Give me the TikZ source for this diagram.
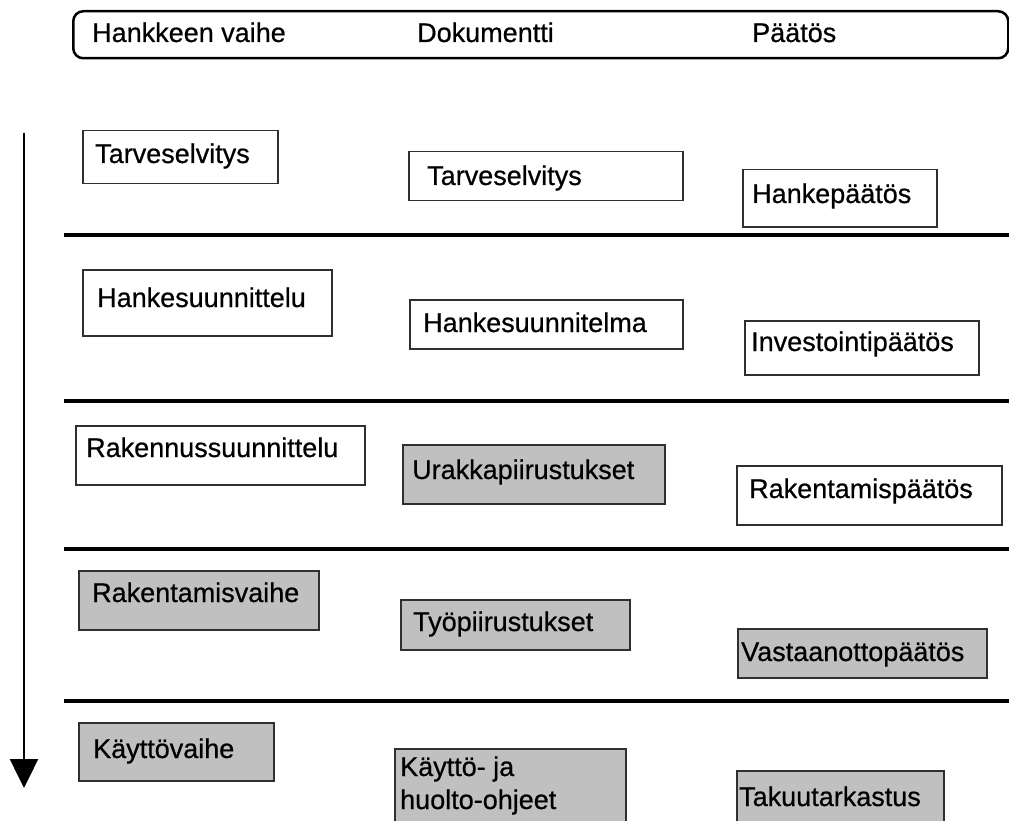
\documentclass[tikz,border=0pt]{standalone}
\usepackage{fontspec}
\setmainfont{Liberation Sans}
\newfontfamily\heavyfont[FakeBold=0.6]{Liberation Sans}
\usetikzlibrary{arrows.meta}
\definecolor{boxgray}{HTML}{C0C0C0}
\definecolor{boxline}{HTML}{303030}
\begin{document}
\begin{tikzpicture}[x=1pt,y=-1pt,
  box/.style={draw=boxline, line width=1.5pt, fill=white, inner sep=0pt, anchor=north west},
  gbox/.style={box, fill=boxgray},
  lbl/.style={anchor=base west, inner sep=0pt, font=\heavyfont\fontsize{27}{33}\selectfont, align=left},
  sep/.style={line width=4pt},
  hdr/.style={draw, line width=2.5pt, rounded corners=10pt, inner sep=0pt, anchor=north west}
]
\clip (0,0) rectangle (1009,821);
\fill[white] (0,0) rectangle (1009,821);

% header
\node[hdr, minimum width=935pt, minimum height=47pt] (header) at (72,10) {};
\node[lbl] (h1) at (92,42) {Hankkeen vaihe};
\node[lbl] (h2) at (417,42) {Dokumentti};
\node[lbl] (h3) at (752,42) {Päätös};

% time arrow
\coordinate (arrtop) at (24,133);
\coordinate (arrbot) at (24,788);
\draw[line width=2.5pt, -{Triangle[width=28pt,length=29pt]}] (arrtop) -- (arrbot);

% separator lines
\foreach \i/\yy in {1/235,2/401,3/549,4/701}{
  \coordinate (sl\i) at (64,\yy);
  \coordinate (sr\i) at (1012,\yy);
  \draw[sep] (sl\i) -- (sr\i);
}

% row 1
\node[box, minimum width=195pt, minimum height=53pt] (b11) at (82,130) {};
\node[lbl] (t11) at (95,163) {Tarveselvitys};
\node[box, minimum width=274pt, minimum height=49pt] (b12) at (408,151) {};
\node[lbl] (t12) at (427,185) {Tarveselvitys};
\node[box, minimum width=194pt, minimum height=57pt] (b13) at (742,169) {};
\node[lbl] (t13) at (752,203) {Hankepäätös};

% row 2
\node[box, minimum width=249pt, minimum height=66pt] (b21) at (82,269) {};
\node[lbl] (t21) at (97,307) {Hankesuunnittelu};
\node[box, minimum width=273pt, minimum height=49pt] (b22) at (409,299) {};
\node[lbl] (t22) at (423,332) {Hankesuunnitelma};
\node[box, minimum width=234pt, minimum height=54pt] (b23) at (744,320) {};
\node[lbl] (t23) at (751,351) {Investointipäätös};

% row 3
\node[box, minimum width=289pt, minimum height=59pt] (b31) at (75,425) {};
\node[lbl] (t31) at (86,457) {Rakennussuunnittelu};
\node[gbox, minimum width=262pt, minimum height=59pt] (b32) at (402,444) {};
\node[lbl] (t32) at (412,479) {Urakkapiirustukset};
\node[box, minimum width=265pt, minimum height=59pt] (b33) at (736,465) {};
\node[lbl] (t33) at (749,498) {Rakentamispäätös};

% row 4
\node[gbox, minimum width=240pt, minimum height=59pt] (b41) at (78,570) {};
\node[lbl] (t41) at (92,602) {Rakentamisvaihe};
\node[gbox, minimum width=229pt, minimum height=50pt] (b42) at (400,599) {};
\node[lbl] (t42) at (413,631) {Työpiirustukset};
\node[gbox, minimum width=249pt, minimum height=49pt] (b43) at (737,628) {};
\node[lbl] (t43) at (741,661) {Vastaanottopäätös};

% row 5
\node[gbox, minimum width=195pt, minimum height=58pt] (b51) at (78,722) {};
\node[lbl] (t51) at (93,758) {Käyttövaihe};
\node[gbox, minimum width=231pt, minimum height=90pt] (b52) at (394,748) {};
\node[lbl] (t52a) at (400,776) {Käyttö- ja};
\node[lbl] (t52b) at (400,809) {huolto-ohjeet};
\node[gbox, minimum width=207pt, minimum height=70pt] (b53) at (736,770) {};
\node[lbl] (t53) at (739,806) {Takuutarkastus};
\end{tikzpicture}
\end{document}
